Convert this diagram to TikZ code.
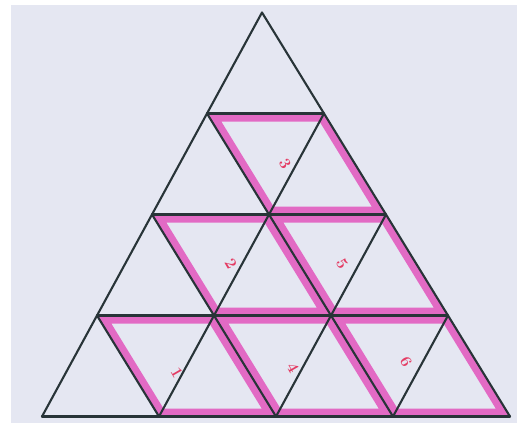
\documentclass[tikz,border=0pt]{standalone}
\usetikzlibrary{calc}
\definecolor{paper}{RGB}{229,231,242}
\definecolor{ink}{RGB}{40,52,56}
\definecolor{marker}{RGB}{226,106,196}
\definecolor{numred}{RGB}{228,60,100}
\tikzset{
  gridline/.style={draw=ink, line width=2.1pt, line cap=round, line join=round},
  band/.style={draw=marker, line width=16pt, line join=miter},
  numlabel/.style={text=numred, font=\fontsize{16}{16}\selectfont\bfseries, rotate=-60, inner sep=0pt}
}
\begin{document}
\begin{tikzpicture}[x=1pt,y=-1pt]
\useasboundingbox (0,0) rectangle (517,423);
\fill[white] (0,0) rectangle (517,423);
\fill[paper] (11,5) rectangle (517,423);
% lattice points p-r-k
\foreach \r in {0,...,4}{
  \foreach \k in {0,...,\r}{
    \coordinate (p-\r-\k) at ({262-55*\r+117*\k},{12.5+101*\r});
  }
}
% pink rhombi (bands inside each rhombus)
\foreach \a/\b/\c/\d in {1-0/1-1/2-2/2-1, 2-0/2-1/3-2/3-1, 2-1/2-2/3-3/3-2, 3-0/3-1/4-2/4-1, 3-1/3-2/4-3/4-2, 3-2/3-3/4-4/4-3}{
  \begin{scope}
    \clip (p-\a) -- (p-\b) -- (p-\c) -- (p-\d) -- cycle;
    \draw[band] (p-\a) -- (p-\b) -- (p-\c) -- (p-\d) -- cycle;
  \end{scope}
}
% horizontal lines
\foreach \r in {1,...,4}{
  \draw[gridline] (p-\r-0) -- (p-\r-\r);
}
% lines parallel to the left edge
\foreach \k in {0,...,3}{
  \draw[gridline] (p-\k-\k) -- (p-4-\k);
}
% lines parallel to the right edge
\foreach \j in {0,...,3}{
  \pgfmathtruncatemacro{\e}{4-\j}
  \draw[gridline] (p-\j-0) -- (p-4-\e);
}
% labels
\node[numlabel] (n3) at (285,164) {3};
\node[numlabel] (n2) at (231,264) {2};
\node[numlabel] (n5) at (342,264) {5};
\node[numlabel] (n1) at (177,373) {1};
\node[numlabel] (n4) at (293,368) {4};
\node[numlabel] (n6) at (406,362) {6};
\end{tikzpicture}
\end{document}
